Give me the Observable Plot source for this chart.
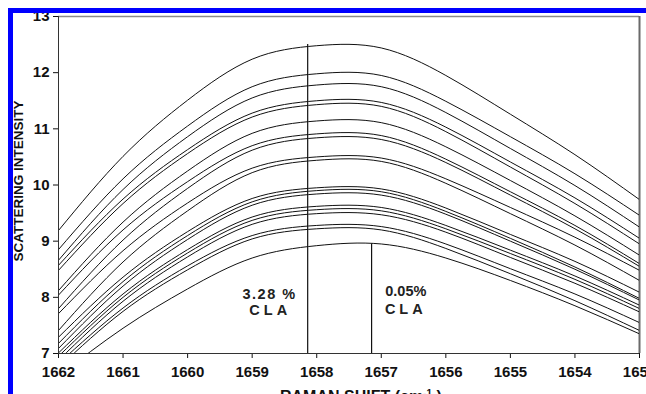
<!DOCTYPE html>
<html><head><meta charset="utf-8">
<script src="https://cdn.jsdelivr.net/npm/d3@7"></script>
<script src="https://cdn.jsdelivr.net/npm/@observablehq/plot@0.6"></script>
<style>
html,body{margin:0;padding:0;background:#fff;overflow:hidden;width:646px;height:394px;}
#wrap{position:relative;width:646px;height:394px;overflow:hidden;}
#wrap svg{position:absolute;left:0;top:0;}
.band{position:absolute;background:#0000ff;z-index:5;}
.lab{position:absolute;font-family:"Liberation Sans",Arial,sans-serif;font-weight:bold;color:#111;white-space:nowrap;z-index:4;}
</style></head><body>
<div id="wrap">
  <div class="band" style="left:8px;top:8px;width:638px;height:5px;"></div>
  <div class="band" style="left:8px;top:8px;width:5px;height:386px;"></div>
  <div class="lab" id="ylab" style="left:18px;top:181px;font-size:13.5px;transform:translate(-50%,-50%) rotate(-90deg);">SCATTERING INTENSITY</div>
  <div class="lab" id="xlab" style="left:280px;top:386px;font-size:16px;line-height:16px;">RAMAN SHIFT (cm<sup style="font-size:10px;vertical-align:5px;">-1</sup> )</div>
</div>
<script>
const ramanShift = [1662, 1661, 1660, 1659, 1658, 1657, 1656, 1655, 1654, 1653];
const xTicks = [1662, 1661, 1660, 1659, 1658, 1657, 1656, 1655, 1654, 1653];
const yTicks = [7, 8, 9, 10, 11, 12, 13];

const curve01 = [9.19, 10.51, 11.51, 12.24, 12.48, 12.44, 11.95, 11.26, 10.54, 9.74];
const curve02 = [8.85, 10.11, 11.05, 11.75, 11.98, 11.95, 11.49, 10.86, 10.20, 9.46];
const curve03 = [8.66, 9.92, 10.86, 11.55, 11.78, 11.75, 11.29, 10.65, 9.99, 9.25];
const curve04 = [8.57, 9.75, 10.63, 11.28, 11.50, 11.47, 11.03, 10.41, 9.77, 9.05];
const curve05 = [8.48, 9.67, 10.56, 11.21, 11.43, 11.40, 10.95, 10.32, 9.67, 8.95];
const curve06 = [8.12, 9.34, 10.25, 10.92, 11.14, 11.11, 10.68, 10.08, 9.45, 8.75];
const curve07 = [8.04, 9.20, 10.06, 10.70, 10.91, 10.88, 10.46, 9.88, 9.28, 8.60];
const curve08 = [7.80, 9.02, 9.94, 10.62, 10.84, 10.81, 10.40, 9.82, 9.22, 8.55];
const curve09 = [7.71, 8.83, 9.68, 10.30, 10.50, 10.48, 10.11, 9.60, 9.07, 8.48];
const curve10 = [7.41, 8.63, 9.54, 10.22, 10.44, 10.42, 10.03, 9.49, 8.93, 8.30];
const curve11 = [7.29, 8.36, 9.17, 9.76, 9.95, 9.93, 9.59, 9.12, 8.64, 8.09];
const curve12 = [7.18, 8.28, 9.10, 9.70, 9.90, 9.88, 9.53, 9.05, 8.54, 7.98];
const curve13 = [7.09, 8.20, 9.03, 9.64, 9.84, 9.82, 9.48, 9.00, 8.50, 7.95];
const curve14 = [7.01, 8.06, 8.85, 9.43, 9.62, 9.60, 9.28, 8.84, 8.38, 7.86];
const curve15 = [6.95, 8.00, 8.79, 9.37, 9.56, 9.54, 9.22, 8.78, 8.32, 7.80];
const curve16 = [6.88, 7.93, 8.72, 9.30, 9.49, 9.47, 9.16, 8.71, 8.25, 7.74];
const curve17 = [6.82, 7.81, 8.56, 9.10, 9.28, 9.26, 8.95, 8.51, 8.06, 7.55];
const curve18 = [6.75, 7.75, 8.49, 9.04, 9.22, 9.20, 8.87, 8.42, 7.94, 7.41];
const curve19 = [6.60, 7.45, 8.15, 8.70, 8.92, 8.95, 8.70, 8.30, 7.85, 7.35];

const claLineShift = [1658.14, 1657.15];
const claLineTop = [12.5, 8.95];
const claPercent = ["3.28 %", "0.05%"];
const claName = ["CLA", "CLA"];

const curves = [curve01, curve02, curve03, curve04, curve05, curve06, curve07, curve08, curve09, curve10,
  curve11, curve12, curve13, curve14, curve15, curve16, curve17, curve18, curve19];
const table = curves.flatMap((c, k) => c.map((v, i) => ({curve: k, shift: ramanShift[i], value: v})));

const chart = Plot.plot({
  width: 646, height: 394,
  marginLeft: 58, marginRight: 7, marginTop: 16, marginBottom: 41,
  style: {fontFamily: "'Liberation Sans', Arial, sans-serif", fontWeight: "bold", fontSize: "15px", color: "#111", background: "transparent"},
  x: {domain: [1662, 1653]},
  y: {domain: [7, 13]},
  marks: [
    Plot.ruleY([13], {stroke: "#8a8a8a", strokeWidth: 1.5}),
    Plot.ruleX([1653], {stroke: "#6a6a6a", strokeWidth: 2}),
    Plot.line(table, {x: "shift", y: "value", z: "curve", curve: "natural", stroke: "#111", strokeWidth: 1, clip: true}),
    Plot.ruleX(claLineShift, {x: d => d, y1: 7, y2: claLineTop, stroke: "#111", strokeWidth: 1.2}),
    Plot.axisX({ticks: xTicks, tickFormat: d => String(d), tickSize: 5, tickPadding: 8, label: null, fontSize: 15, fontWeight: "bold"}),
    Plot.axisY({ticks: yTicks, tickFormat: d => String(d), tickSize: 5, tickPadding: 4, label: null, fontSize: 15, fontWeight: "bold"}),
    Plot.ruleX([1662], {stroke: "#333", strokeWidth: 1}),
    Plot.ruleY([7], {stroke: "#333", strokeWidth: 1}),
    Plot.text(claPercent, {x: [1658.73, 1656.62], y: [8.06, 8.10], text: d => d, fontSize: 14.5, fontWeight: "bold", fill: "#222"}),
    Plot.text(claName, {x: [1658.72, 1656.62], y: [7.76, 7.79], text: d => d, fontSize: 14.5, fontWeight: "bold", fill: "#222"})
  ]
});
document.getElementById("wrap").appendChild(chart);
d3.select(chart).selectAll("text").each(function() {
  const t = this.textContent;
  if (t === "CLA") d3.select(this).style("letter-spacing", "4px");
  if (t === "3.28 %") d3.select(this).style("letter-spacing", "1.5px");
});
</script>
</body></html>
